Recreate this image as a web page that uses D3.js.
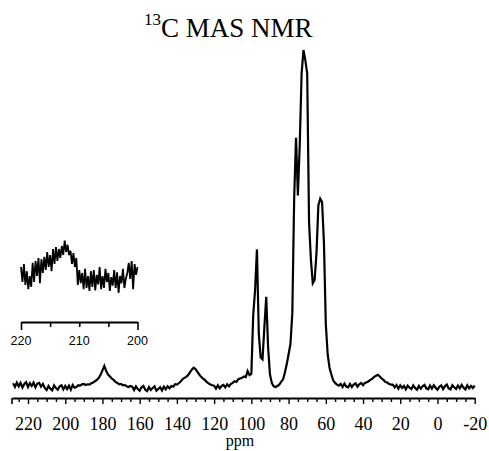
<!DOCTYPE html>
<html>
<head>
<meta charset="utf-8">
<script src="https://cdn.jsdelivr.net/npm/d3@7"></script>
<style>
html,body{margin:0;padding:0;background:#fff;}
svg{display:block;}
</style>
</head>
<body>
<svg id="chart" width="489" height="451"></svg>
<script>
// ---- data ----
const titleSup = "13";
const titleMain = "C MAS NMR";
const xLabel = "ppm";
const ppmStart = 228, ppmEnd = -20;           // main spectrum, 1 ppm steps
const mainIntensity = [
  // 228..211
  1.4,0.3,1.6,0.5,1.5,0.1,1.2,1.7,0.3,1.4,0.6,1.6,0.2,1.3,1.5,0.4,1.2,0.0,
  // 210..190
  -0.6,0.6,-0.2,-0.7,0.8,0.0,-0.5,0.5,0.8,-0.4,0.6,-0.3,0.7,-0.5,0.9,0.1,0.3,0.8,0.7,1.1,1.2,
  // 189..165
  0.9,1.1,1.0,1.4,1.6,2.0,2.4,3.0,3.9,5.2,6.5,5.0,4.0,3.4,2.8,2.4,1.8,1.5,1.1,1.2,0.8,0.9,0.5,0.3,0.6,
  // 164..141
  0.4,-0.6,0.5,-0.3,-0.8,0.2,0.6,-0.5,-0.9,0.3,-0.6,0.0,0.5,-0.8,-0.3,0.2,-0.7,0.4,-0.4,0.5,-0.1,0.6,0.4,1.1,
  // 140..121
  1.0,1.4,1.9,2.6,3.0,3.3,3.8,4.6,5.4,6.0,5.6,4.8,4.0,3.3,2.8,2.4,1.8,1.4,1.0,0.8,
  // 120..111
  0.7,-0.2,0.8,-0.1,0.6,0.9,0.2,1.1,0.5,1.2,
  // 110..53
  1.5,2.0,1.8,2.6,2.8,3.0,3.4,3.2,5.0,3.8,
  4.2,21.5,29,41,16,9,8.5,18,27,12,
  4,1.5,0.5,0.3,0.6,1.0,1.8,2.5,4.5,7,
  10,13,22,56,74,57,72,93,100,97,
  93,49,38,31,32,40,54,56,55,43,
  19,10,6,4,2.2,1.5,1.0,0.7,
  // 52..38
  1.2,0.3,1.3,0.4,0.2,1.2,0.3,1.0,1.4,0.4,1.1,1.5,0.8,1.5,1.7,
  // 37..25
  2.0,2.4,2.8,3.3,3.6,3.9,3.4,2.8,2.4,1.8,1.6,1.2,1.0,
  // 24..-20
  1.0,0.2,0.9,-0.2,0.8,0.0,0.6,-0.4,0.7,0.1,
  -0.3,0.8,0.0,-0.5,0.6,-0.2,0.5,0.9,-0.1,-0.4,
  0.7,-0.2,0.8,0.1,-0.5,0.4,0.8,-0.3,0.5,1.0,
  -0.1,-0.4,0.8,0.2,-0.3,0.7,-0.1,0.9,0.1,-0.4,
  0.8,-0.1,0.6,0.0,0.7
];
const majorTicks = [220,200,180,160,140,120,100,80,60,40,20,0,-20];

// inset: 220..200 ppm in 0.25 ppm steps
const insetStart = 220, insetEnd = 200;
const insetIntensity = [
  5.5,3.0,6.0,2.5,4.8,1.8,4.0,2.2,6.2,
  3.0,6.5,4.0,7.0,2.8,6.8,4.5,7.2,
  5.0,8.0,5.5,7.5,4.8,8.5,6.0,8.8,
  6.5,8.5,7.0,9.0,7.5,9.9,8.0,9.2,
  7.5,8.2,6.0,7.8,5.5,7.0,2.5,5.0,
  2.8,4.5,1.8,5.2,2.0,4.0,1.5,4.8,
  2.2,5.0,1.6,4.2,2.6,5.5,1.8,4.0,
  2.0,5.2,3.0,4.5,1.5,3.8,2.4,5.0,
  2.0,4.6,1.2,4.0,2.8,5.2,2.0,3.6,
  4.5,6.2,3.5,6.5,1.8,6.0,4.2,5.5
];
const insetTicks = [220,215,210,205,200];
const insetLabels = [220,210,200];

// ---- drawing ----
const svg = d3.select("#chart");
const mainPpm = d3.range(ppmStart, ppmEnd - 0.5, -1);
const mainData = mainPpm.map((p,i)=>({x:p, y:mainIntensity[i]}));

const x = d3.scaleLinear().domain([228.6, -20]).range([12, 474.7]);
const y = d3.scaleLinear().domain([0, 100]).range([388, 50]);

const line = d3.line().x(d=>x(d.x)).y(d=>y(d.y));
svg.append("path").datum(mainData)
  .attr("d", line).attr("fill","none").attr("stroke","#000")
  .attr("stroke-width",2.2).attr("stroke-linejoin","miter");

// main axis
const axisY = 398;
const minorTicks = d3.range(225, -20.5, -5).filter(v=>!majorTicks.includes(v));
const gMinor = svg.append("g").attr("transform",`translate(0,${axisY})`)
  .call(d3.axisBottom(x).tickValues(minorTicks).tickSize(4).tickSizeOuter(0).tickFormat(""));
const gMajor = svg.append("g").attr("transform",`translate(0,${axisY})`)
  .call(d3.axisBottom(x).tickValues(majorTicks).tickSize(6).tickSizeOuter(0).tickFormat(d=>String(d)));
[gMinor,gMajor].forEach(g=>{
  g.select(".domain").attr("stroke","#000").attr("stroke-width",2.2);
  g.selectAll(".tick line").attr("stroke","#000").attr("stroke-width",1.4);
});
gMinor.select(".domain").attr("stroke","none");
gMajor.selectAll(".tick text")
  .attr("y", 32).attr("dy", null)
  .attr("font-family","'Liberation Serif','Times New Roman',serif")
  .attr("font-size", 18).attr("fill","#000");
// end tick at left edge of the axis
svg.append("line").attr("x1",x(228.6)).attr("x2",x(228.6))
  .attr("y1",axisY).attr("y2",axisY+6).attr("stroke","#000").attr("stroke-width",1.6);

svg.append("text").attr("x",240).attr("y",446).attr("text-anchor","middle")
  .attr("font-family","'Liberation Serif','Times New Roman',serif")
  .attr("font-size",16).text(xLabel);

// title
const t = svg.append("text").attr("x",144).attr("y",37)
  .attr("font-family","'Liberation Serif','Times New Roman',serif").attr("fill","#000");
t.append("tspan").attr("font-size",17).attr("dy",-12).text(titleSup);
t.append("tspan").attr("font-size",27).attr("dy",12).text(titleMain);

// inset
const xi = d3.scaleLinear().domain([insetStart, insetEnd]).range([21, 137.5]);
const yi = d3.scaleLinear().domain([0, 10]).range([300, 240]);
const insetPpm = d3.range(insetStart, insetEnd - 0.1, -0.25);
const insetData = insetPpm.map((p,i)=>({x:p, y:insetIntensity[i]}));
svg.append("path").datum(insetData)
  .attr("d", d3.line().x(d=>xi(d.x)).y(d=>yi(d.y)))
  .attr("fill","none").attr("stroke","#000").attr("stroke-width",1.8);

const insetY = 322;
const gi = svg.append("g").attr("transform",`translate(0,${insetY})`)
  .call(d3.axisBottom(xi).tickValues(insetTicks).tickSize(5).tickSizeOuter(0).tickFormat(""));
gi.select(".domain").attr("stroke","#000").attr("stroke-width",2.2);
gi.selectAll(".tick line").attr("stroke","#000").attr("stroke-width",1.6)
  .attr("y2", d=> (d===220||d===200) ? 8 : 5);
svg.append("g").selectAll("text").data(insetLabels).join("text")
  .attr("x", d=>xi(d)).attr("y", 345).attr("text-anchor","middle")
  .attr("font-family","'Liberation Sans',Arial,sans-serif").attr("font-size",12.5)
  .attr("fill","#000").text(d=>d);
</script>
</body>
</html>
